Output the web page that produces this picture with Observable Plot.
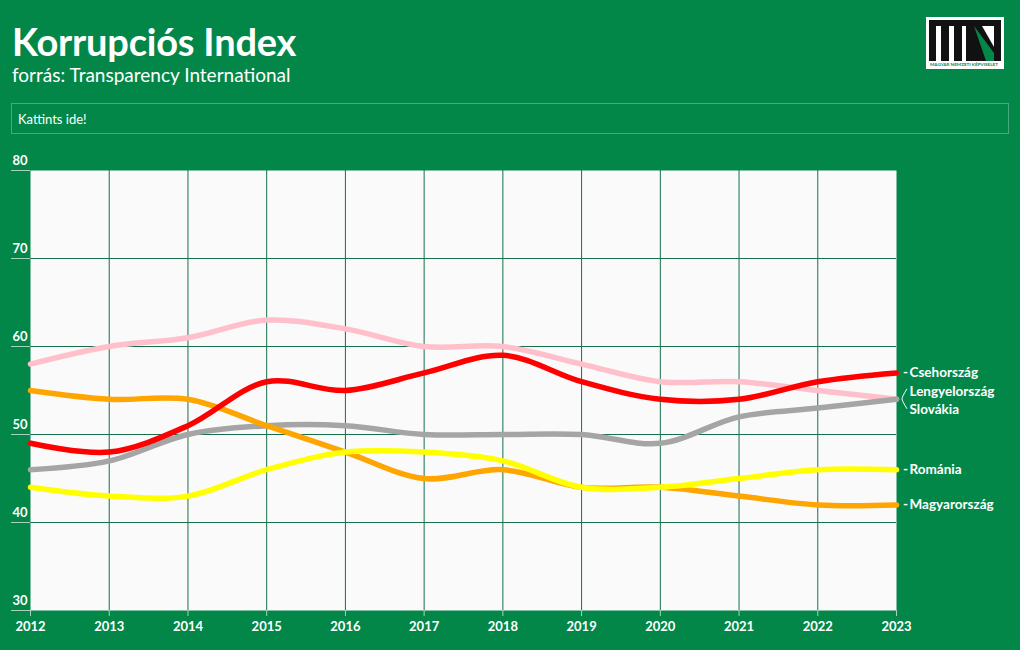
<!DOCTYPE html>
<html><head><meta charset="utf-8">
<script src="https://cdn.jsdelivr.net/npm/d3@7"></script>
<script src="https://cdn.jsdelivr.net/npm/@observablehq/plot@0.6"></script>
<style>
html,body{margin:0;padding:0;background:#038749;width:1020px;height:650px;overflow:hidden;font-family:Lato,"Noto Sans",sans-serif;color:#fff}
#title{position:absolute;left:12px;top:18px;font-size:38px;font-weight:700;letter-spacing:-0.2px;line-height:46px}
#sub{position:absolute;left:12px;top:64px;font-size:19px;line-height:22px}
#box{position:absolute;left:11px;top:103px;width:998px;height:31px;border:1px solid #4aa97a;box-sizing:border-box;font-size:13px;line-height:30px;padding-left:6px}
#chart{position:absolute;left:0;top:150px}
#logo{position:absolute;left:926px;top:17px}
</style></head><body>
<div id="title">Korrupciós Index</div>
<div id="sub">forrás: Transparency International</div>
<div id="box">Kattints ide!</div>
<svg id="logo" width="78" height="52" viewBox="0 0 78 52">
  <rect x="0" y="0" width="78" height="52" fill="#fff"/>
  <rect x="3" y="3" width="72" height="6" fill="#111"/>
  <rect x="3" y="3" width="7" height="41" fill="#111"/>
  <rect x="15" y="3" width="8" height="41" fill="#111"/>
  <rect x="28" y="3" width="8" height="41" fill="#111"/>
  <rect x="40" y="3" width="8" height="41" fill="#111"/>
  <rect x="68" y="3" width="7" height="41" fill="#111"/>
  <polygon points="48,9 48,44 68,44 68,30 56,9" fill="#111"/>
  <polygon points="48,9 68,36 68,44 60,44" fill="#038749"/>
  <text x="4" y="48.5" font-size="3" fill="#038749" font-weight="700" textLength="68" lengthAdjust="spacingAndGlyphs">MAGYAR NEMZETI KÉPVISELET</text>
</svg>
<div id="chart"></div>
<script>
const years = [2012,2013,2014,2015,2016,2017,2018,2019,2020,2021,2022,2023];
const countries = ["Lengyelország","Slovákia","Magyarország","Románia","Csehország"];
const colors = ["#ffc0cb","#a5a5a5","#ffa500","#ffff00","#ff0000"];
const lengyel = [58,60,61,63,62,60,60,58,56,56,55,54];
const szlovak = [46,47,50,51,51,50,50,50,49,52,53,54];
const magyar  = [55,54,54,51,48,45,46,44,44,43,42,42];
const roman   = [44,43,43,46,48,48,47,44,44,45,46,46];
const cseh    = [49,48,51,56,55,57,59,56,54,54,56,57];
const series = [lengyel,szlovak,magyar,roman,cseh];
const yTicks = [30,40,50,60,70,80];

const data = [];
countries.forEach((c,i)=>years.forEach((y,j)=>data.push({country:c,year:y,value:series[i][j]})));
const ends = countries.map((c,i)=>({country:c,year:2023,value:series[i][series[i].length-1]}));
const single = ends.filter(d=>d.country!=="Lengyelország" && d.country!=="Slovákia");

const bracket = (index, scales) => {
  const x = scales.x(2023) + 11, y = scales.y(54);
  const p = document.createElementNS("http://www.w3.org/2000/svg","path");
  p.setAttribute("d",`M${x},${y-10} Q${x-5},${y-2} ${x-5},${y} Q${x-5},${y+2} ${x},${y+10}`);
  p.setAttribute("fill","none"); p.setAttribute("stroke","#fff"); p.setAttribute("stroke-width","1");
  return p;
};

const txt = {fill:"#fff", fontSize:13, fontWeight:700};
const lab = {fill:"#fff", fontSize:13.5, fontWeight:700};
const chart = Plot.plot({
  width:1020, height:490,
  marginLeft:30, marginRight:124, marginTop:20, marginBottom:30,
  style:{background:"transparent", color:"#fff", fontFamily:"Lato,'Noto Sans',sans-serif", overflow:"visible"},
  x:{domain:[2012,2023], ticks:years, tickFormat:d=>String(d)},
  y:{domain:[30,80], ticks:yTicks},
  color:{domain:countries, range:colors},
  marks:[
    Plot.frame({fill:"#fafafa", stroke:null}),
    Plot.gridX(years.slice(1,-1),{stroke:"#16704b", strokeOpacity:1, strokeWidth:1}),
    Plot.gridY([40,50,60,70],{stroke:"#16704b", strokeOpacity:1, strokeWidth:1}),
    Plot.axisY(yTicks,{tickSize:19, text:null, stroke:"#a8d3bd", strokeOpacity:1, label:null}),
    Plot.text(yTicks,{y:d=>d, frameAnchor:"left", dx:-18, dy:-10, textAnchor:"start", ...txt}),
    Plot.axisX(years,{tickSize:6, tickPadding:5, ...txt, stroke:"#a8d3bd", label:null, tickFormat:d=>String(d)}),
    Plot.line(data,{x:"year", y:"value", z:"country", stroke:"country", strokeWidth:5.5, curve:"catmull-rom"}),
    Plot.text(single,{x:"year", y:"value", text:()=>"-", dx:9, ...lab}),
    Plot.text(single,{x:"year", y:"value", text:"country", dx:13, textAnchor:"start", ...lab}),
    Plot.text(ends.filter(d=>d.country==="Lengyelország"),{x:"year", y:"value", text:"country", dx:13, dy:-8, textAnchor:"start", ...lab}),
    Plot.text(ends.filter(d=>d.country==="Slovákia"),{x:"year", y:"value", text:"country", dx:13, dy:10, textAnchor:"start", ...lab}),
    bracket
  ]
});
document.getElementById("chart").appendChild(chart);
</script>
</body></html>
